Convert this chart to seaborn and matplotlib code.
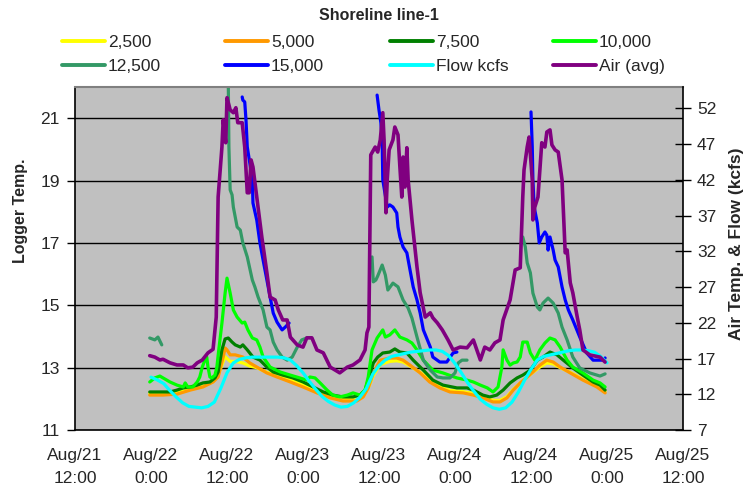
import matplotlib
matplotlib.use("Agg")
import matplotlib.pyplot as plt
from matplotlib.lines import Line2D
import pandas as pd
import seaborn as sns

sns.set_style("white")
plt.rcParams["font.family"] = ["Liberation Sans", "DejaVu Sans"]

# ---- chart text -----------------------------------------------------------
title = "Shoreline line-1"
left_label = "Logger Temp."
right_label = "Air Temp. & Flow (kcfs)"
tick_hours = [0, 12, 24, 36, 48, 60, 72, 84, 96]  # hours after Aug/21 12:00
tick_labels = ["Aug/21\n12:00", "Aug/22\n0:00", "Aug/22\n12:00", "Aug/23\n0:00",
               "Aug/23\n12:00", "Aug/24\n0:00", "Aug/24\n12:00", "Aug/25\n0:00",
               "Aug/25\n12:00"]
left_ticks = [11, 13, 15, 17, 19, 21]
right_ticks = [7, 12, 17, 22, 27, 32, 37, 42, 47, 52]

# ---- logger temperatures (left axis) --------------------------------------
t_2500 = [11.8, 13.9, 16.1, 18.2, 20.2, 21.8, 22.6, 23.4, 23.7, 24.5, 25.3, 26.5,
          27.6, 28.7, 30.3, 31.9, 34.0, 36.0, 38.2, 40.3, 42.3, 44.5, 45.5, 46.3,
          47.1, 48.2, 49.7, 50.8, 51.8, 52.9, 54.5, 56.0, 57.6, 59.2, 61.3, 62.9,
          64.4, 66.0, 67.1, 68.2, 69.2, 70.3, 71.4, 72.3, 73.4, 74.5, 75.5, 76.6,
          78.2, 80.2, 82.4, 83.7]
v_2500 = [12.18, 12.16, 12.20, 12.30, 12.40, 12.55, 12.75, 13.20, 13.35, 13.20, 13.20, 13.15,
          13.05, 13.00, 12.85, 12.75, 12.60, 12.45, 12.25, 12.08, 11.98, 11.97, 12.08, 12.35,
          12.75, 13.10, 13.20, 13.22, 13.18, 13.05, 12.85, 12.60, 12.40, 12.27, 12.23, 12.17,
          12.08, 11.95, 11.95, 12.07, 12.30, 12.50, 12.70, 12.85, 13.02, 13.15, 13.12, 13.00,
          12.85, 12.63, 12.42, 12.24]

t_5000 = [11.8, 13.9, 16.1, 18.2, 20.2, 21.8, 22.6, 23.4, 23.7, 24.0, 24.5, 25.3,
          26.5, 27.6, 28.7, 30.3, 31.9, 34.0, 36.0, 38.2, 40.3, 42.3, 44.5, 45.5,
          46.3, 47.1, 48.2, 49.7, 50.8, 51.8, 52.9, 54.5, 56.0, 57.6, 59.2, 61.3,
          62.9, 64.4, 66.0, 67.1, 68.2, 69.2, 70.3, 71.4, 72.3, 73.4, 74.5, 75.5,
          76.6, 78.2, 80.2, 82.4, 83.7]
v_5000 = [12.12, 12.12, 12.15, 12.28, 12.38, 12.54, 12.70, 13.34, 13.63, 13.57, 13.41, 13.41,
          13.34, 13.15, 13.02, 12.83, 12.70, 12.54, 12.38, 12.19, 12.03, 11.93, 11.93, 12.06,
          12.35, 12.83, 13.24, 13.31, 13.31, 13.24, 13.08, 12.83, 12.54, 12.35, 12.22, 12.19,
          12.12, 12.03, 11.90, 11.90, 12.03, 12.28, 12.51, 12.70, 12.86, 13.08, 13.24, 13.18,
          13.02, 12.83, 12.60, 12.38, 12.19]

t_7500 = [11.8, 13.0, 13.9, 15.0, 16.1, 17.1, 18.2, 19.3, 20.2, 21.3, 22.1, 22.6,
          23.2, 23.7, 24.2, 24.8, 25.3, 26.1, 26.5, 27.2, 28.1, 29.2, 30.3, 31.3,
          32.8, 34.4, 36.0, 37.6, 39.2, 40.7, 42.3, 43.9, 45.0, 45.8, 46.3, 47.1,
          47.8, 48.6, 49.7, 50.5, 51.3, 52.4, 53.4, 55.0, 56.5, 58.1, 60.3, 61.9,
          62.9, 64.4, 65.5, 66.6, 67.6, 68.7, 69.8, 70.7, 71.9, 73.0, 73.9, 75.0,
          76.1, 77.1, 78.6, 80.2, 81.8, 82.9, 83.7]
v_7500 = [12.22, 12.22, 12.22, 12.22, 12.28, 12.35, 12.38, 12.44, 12.51, 12.54, 12.67, 12.86,
          13.57, 13.92, 13.95, 13.82, 13.73, 13.66, 13.73, 13.57, 13.34, 13.24, 13.02, 12.86,
          12.76, 12.67, 12.54, 12.38, 12.22, 12.12, 12.06, 12.06, 12.12, 12.28, 12.60, 13.15,
          13.34, 13.47, 13.50, 13.60, 13.50, 13.47, 13.24, 12.92, 12.60, 12.44, 12.35, 12.35,
          12.28, 12.12, 12.06, 12.12, 12.28, 12.51, 12.67, 12.76, 12.92, 13.24, 13.34, 13.50,
          13.41, 13.24, 12.99, 12.76, 12.54, 12.44, 12.28]

t_10000 = [11.8, 12.6, 13.4, 13.9, 15.0, 16.1, 17.1, 17.4, 17.8, 18.6, 19.3, 19.7,
           20.1, 20.5, 20.8, 21.0, 21.3, 21.6, 22.1, 22.4, 22.7, 23.2, 23.7, 24.0,
           24.5, 25.0, 25.6, 26.4, 26.8, 27.3, 28.0, 28.7, 29.2, 29.7, 30.8, 32.4,
           34.0, 35.5, 36.6, 37.1, 37.9, 38.7, 39.8, 40.7, 41.8, 43.0, 43.9, 45.0,
           45.8, 46.3, 46.9, 47.7, 48.6, 49.0, 49.7, 50.5, 51.3, 52.4, 53.2, 54.0,
           55.0, 56.5, 58.1, 60.3, 61.9, 62.9, 64.0, 65.1, 66.0, 66.8, 67.4, 67.6,
           68.2, 68.7, 69.2, 69.8, 70.3, 70.7, 71.4, 71.9, 72.6, 73.4, 74.2, 75.0,
           75.8, 76.6, 77.7, 78.6, 80.2, 81.8, 82.9, 83.7]
v_10000 = [12.54, 12.67, 12.73, 12.67, 12.54, 12.44, 12.38, 12.51, 12.38, 12.38, 12.54, 12.70,
           13.02, 13.24, 13.34, 13.02, 12.70, 12.67, 12.76, 13.02, 13.57, 14.43, 15.39, 15.87,
           15.39, 14.85, 14.62, 14.43, 14.46, 14.21, 13.95, 13.89, 13.66, 13.34, 13.02, 12.86,
           12.76, 12.67, 12.60, 12.70, 12.67, 12.51, 12.28, 12.12, 12.06, 12.12, 12.19, 12.12,
           12.28, 12.70, 13.57, 13.95, 14.21, 13.98, 14.05, 14.21, 13.98, 13.89, 13.79, 13.57,
           13.24, 12.92, 12.83, 12.67, 12.60, 12.54, 12.44, 12.35, 12.22, 12.38, 13.02, 13.57,
           13.24, 13.08, 13.15, 13.18, 13.34, 13.82, 13.82, 13.47, 13.24, 13.57, 13.79, 13.95,
           13.89, 13.66, 13.24, 13.02, 12.83, 12.60, 12.51, 12.38]

# the 12,500 and 15,000 loggers have gaps in their records
t_12500_a = [11.8, 12.6, 13.1, 13.7]
v_12500_a = [13.95, 13.89, 13.98, 13.73]
t_12500_b = [24.2, 24.3, 24.5, 24.8, 25.0, 25.6, 26.1, 26.5, 27.2, 28.0, 28.4, 28.9,
             29.7, 30.3, 30.8, 31.3, 31.9, 32.7, 33.5, 34.3, 35.1, 35.8, 36.6]
v_12500_b = [22.20, 20.08, 18.70, 18.54, 18.15, 17.51, 17.41, 17.00, 16.55, 15.81, 15.59, 15.27,
             14.85, 14.30, 14.21, 13.82, 13.57, 13.34, 13.24, 13.34, 13.66, 13.89, 13.95]
t_12500_c = [46.9, 47.1, 47.5, 47.8, 48.5, 49.0, 49.4, 50.2, 51.0, 51.8, 52.6, 53.2,
             54.0, 55.0, 56.1, 57.2, 58.1, 59.2, 60.0, 60.5, 61.1, 61.9]
v_12500_c = [16.55, 15.75, 15.81, 15.94, 16.29, 15.97, 15.49, 15.71, 15.59, 15.17, 14.91, 14.59,
             13.98, 13.24, 12.92, 12.70, 12.67, 12.67, 12.83, 13.15, 13.24, 13.24]
t_12500_d = [70.7, 71.1, 71.4, 71.9, 72.3, 73.0, 73.4, 73.9, 74.7, 75.5, 76.3, 76.9,
             77.7, 78.6, 79.7, 81.3, 82.9, 83.7]
v_12500_d = [17.19, 16.87, 16.36, 16.04, 15.39, 14.94, 14.85, 15.07, 15.23, 15.07, 14.75, 14.30,
             13.89, 13.34, 12.99, 12.83, 12.73, 12.80]

t_15000_a = [26.4, 26.5, 26.8, 27.0, 27.2, 27.6, 28.0, 28.1, 28.7, 29.2, 29.7, 30.3,
             30.8, 31.3, 31.9, 32.7, 33.2, 33.8]
v_15000_a = [21.68, 21.58, 21.52, 20.94, 20.08, 19.56, 19.02, 18.28, 17.73, 17.00, 16.45, 15.81,
             15.27, 14.75, 14.46, 14.21, 14.30, 14.43]
t_15000_b = [47.7, 48.0, 48.3, 48.5, 48.6, 49.3, 49.7, 50.2, 50.8, 51.0, 51.3, 51.8,
             52.4, 52.9, 53.4, 54.0, 54.5, 55.0, 56.1, 56.5, 57.6, 58.7, 59.7, 60.3]
v_15000_b = [21.74, 21.26, 20.85, 20.30, 19.02, 18.15, 18.22, 18.15, 17.96, 17.51, 17.19, 16.87,
             16.68, 16.13, 15.59, 15.17, 14.75, 14.21, 13.66, 13.34, 13.18, 13.18, 13.47, 13.50]
t_15000_c = [72.0, 72.2, 72.3, 72.5, 73.0, 73.3, 73.7, 74.2, 74.5, 74.7, 75.0, 75.5,
             75.8, 76.3, 76.9, 77.4, 77.9, 78.6, 79.7, 80.8, 81.8, 83.4, 83.7]
v_15000_c = [21.20, 20.08, 19.02, 18.15, 17.64, 17.00, 17.19, 17.35, 17.25, 16.77, 17.19, 16.77,
             16.45, 16.23, 15.59, 15.17, 14.85, 14.53, 13.98, 13.47, 13.24, 13.24, 13.31]

# ---- river flow and air temperature (right axis) --------------------------
t_flow = list(range(12, 85))
v_flow = [14.4, 14.0, 13.5, 12.5, 11.6, 10.8, 10.3, 10.2, 10.1, 10.3, 10.9, 12.8,
          15.0, 16.4, 16.9, 17.1, 17.2, 17.2, 17.2, 17.2, 17.2, 17.1, 16.8, 16.0,
          15.0, 13.8, 12.7, 11.7, 11.0, 10.5, 10.2, 10.3, 10.8, 11.6, 12.8, 14.8,
          16.0, 16.8, 17.3, 17.5, 17.7, 17.9, 18.0, 18.1, 18.2, 18.2, 18.0, 17.4,
          16.3, 15.0, 13.6, 12.4, 11.3, 10.6, 10.1, 9.9, 10.1, 10.9, 12.3, 14.0,
          15.5, 16.8, 17.3, 17.5, 17.7, 17.9, 18.1, 18.2, 18.2, 18.1, 17.9, 17.3,
          16.4]

t_air = [11.8, 12.6, 13.4, 13.9, 15.0, 16.1, 17.1, 17.8, 18.6, 19.3, 20.1, 21.0,
         21.8, 22.3, 22.6, 23.2, 23.4, 23.8, 24.0, 24.5, 25.0, 25.4, 25.7, 26.4,
         26.8, 27.2, 27.5, 27.8, 28.1, 28.7, 29.5, 30.3, 30.8, 31.6, 32.1, 32.8,
         33.5, 34.0, 35.1, 36.0, 36.6, 37.4, 38.2, 39.2, 40.3, 41.8, 43.0, 43.9,
         45.0, 45.8, 46.1, 46.4, 46.7, 47.4, 47.8, 48.2, 48.6, 48.8, 49.1, 49.3,
         49.6, 50.2, 50.5, 51.0, 51.3, 51.6, 51.8, 52.1, 52.4, 52.6, 53.2, 54.0,
         54.5, 55.3, 56.1, 56.5, 57.2, 58.0, 58.9, 59.7, 60.8, 61.9, 62.9, 64.0,
         64.7, 65.5, 66.3, 67.1, 67.6, 68.7, 69.5, 70.3, 70.7, 70.9, 71.4, 71.7,
         72.2, 72.3, 72.6, 73.1, 73.7, 74.2, 74.5, 75.0, 75.3, 75.8, 76.3, 76.9,
         77.4, 77.7, 78.2, 78.6, 79.3, 79.7, 80.2, 81.3, 82.9, 83.7]
v_air = [17.4, 17.2, 16.8, 16.9, 16.4, 16.1, 16.1, 15.7, 15.8, 16.4, 16.8, 17.8,
         18.3, 22.8, 39.6, 46.6, 50.4, 47.2, 53.5, 51.8, 51.4, 52.1, 50.0, 50.0,
         46.6, 40.2, 40.2, 44.8, 43.8, 39.6, 34.0, 29.0, 25.6, 25.2, 23.8, 22.4,
         22.4, 20.0, 18.9, 18.6, 19.9, 19.9, 18.2, 17.8, 15.8, 15.0, 15.8, 16.1,
         16.8, 18.2, 20.6, 21.4, 45.5, 46.6, 45.9, 47.6, 51.4, 47.6, 37.4, 42.0,
         46.2, 47.6, 49.4, 48.3, 43.8, 39.6, 45.2, 41.0, 46.5, 42.0, 36.4, 29.8,
         26.2, 22.8, 23.4, 22.7, 22.0, 21.0, 19.6, 18.2, 18.6, 18.5, 19.6, 16.8,
         18.6, 18.2, 19.2, 19.6, 22.4, 25.2, 29.4, 29.7, 39.6, 43.4, 46.6, 48.0,
         42.0, 36.4, 38.2, 39.6, 47.2, 46.6, 48.7, 49.0, 46.9, 46.2, 45.9, 42.0,
         31.8, 32.2, 27.6, 26.2, 22.8, 21.0, 18.2, 17.5, 17.2, 16.5]

names = ["2,500", "5,000", "7,500", "10,000", "12,500", "15,000", "Flow kcfs", "Air (avg)"]
colors = ["#FFFF00", "#FF9900", "#008000", "#00FF00", "#339966", "#0000FF", "#00FFFF", "#800080"]


def frame(name, pieces):
    rows = []
    for k, (t, v) in enumerate(pieces):
        for h, y in zip(t, v):
            rows.append({"series": name, "seg": f"{name}-{k}", "hour": h, "value": y})
    return pd.DataFrame(rows)


left_df = pd.concat([
    frame("2,500", [(t_2500, v_2500)]),
    frame("5,000", [(t_5000, v_5000)]),
    frame("7,500", [(t_7500, v_7500)]),
    frame("10,000", [(t_10000, v_10000)]),
    frame("12,500", [(t_12500_a, v_12500_a), (t_12500_b, v_12500_b),
                     (t_12500_c, v_12500_c), (t_12500_d, v_12500_d)]),
    frame("15,000", [(t_15000_a, v_15000_a), (t_15000_b, v_15000_b),
                     (t_15000_c, v_15000_c)]),
], ignore_index=True)
right_df = pd.concat([
    frame("Flow kcfs", [(t_flow, v_flow)]),
    frame("Air (avg)", [(t_air, v_air)]),
], ignore_index=True)

palette = dict(zip(names, colors))

fig = plt.figure(figsize=(7.48, 4.92), dpi=100)
ax = fig.add_axes([75 / 748, 62 / 492, 608 / 748, 343 / 492])
ax2 = ax.twinx()
ax.set_facecolor("#C0C0C0")

sns.lineplot(data=left_df, x="hour", y="value", hue="series", units="seg",
             estimator=None, sort=False, palette=palette, hue_order=names[:6],
             linewidth=2.3, legend=False, ax=ax)
for name, lw in [("Flow kcfs", 2.3), ("Air (avg)", 2.6)]:
    sub = right_df[right_df["series"] == name]
    sns.lineplot(data=sub, x="hour", y="value", units="seg", estimator=None,
                 sort=False, color=palette[name], linewidth=lw, legend=False, ax=ax2)
for line in ax.get_lines() + ax2.get_lines():
    line.set_solid_joinstyle("round")

# axes limits, ticks and grid
ax.set_xlim(0, 96)
ax.set_ylim(11, 22)
ax2.set_ylim(7, 55)
ax.set_xticks(tick_hours)
ax.set_xticklabels(tick_labels, fontsize=12.5, linespacing=1.7, multialignment="center")
ax.set_yticks(left_ticks)
ax.set_yticklabels([str(v) for v in left_ticks], fontsize=12.5)
ax2.set_yticks(right_ticks)
ax2.set_yticklabels([str(v) for v in right_ticks], fontsize=12.5)
ax.tick_params(axis="x", direction="out", length=5, width=1, color="black", pad=8)
ax.tick_params(axis="y", direction="out", length=6, width=1, color="black", pad=5)
ax2.tick_params(axis="y", direction="inout", length=12, width=1, color="black", pad=4)
ax.set_axisbelow(True)
ax.yaxis.grid(True, color="black", linewidth=1.0)
ax.xaxis.grid(False)
ax.set_xlabel("")
ax.set_ylabel(left_label, fontsize=11.5, fontweight="bold")
ax2.set_ylabel(right_label, fontsize=12.5, fontweight="bold")
ax.yaxis.set_label_coords(-0.078, 0.638)
ax2.yaxis.set_label_coords(1.076, 0.542)

for a in (ax, ax2):
    for side in ("left", "right", "bottom", "top"):
        a.spines[side].set_visible(False)
ax.spines["left"].set_visible(True)
ax.spines["bottom"].set_visible(True)
ax2.spines["right"].set_visible(True)
ax.spines["top"].set_visible(True)
for side in ("left", "bottom"):
    ax.spines[side].set_color("black")
    ax.spines[side].set_linewidth(1.2)
ax2.spines["right"].set_color("black")
ax2.spines["right"].set_linewidth(1.2)
ax.spines["top"].set_color("#808080")
ax.spines["top"].set_linewidth(1.5)

# title and legend
fig.text(379 / 748, 1 - 15 / 492, title, ha="center", va="center",
         fontsize=11.5, fontweight="bold")
handles = [Line2D([], [], color=c, linewidth=2.8) for c in colors]
col_x = [62, 225, 390, 553]
for k, x0 in enumerate(col_x):
    pair = [k, k + 4]
    fig.legend([handles[i] for i in pair], [names[i] for i in pair],
               loc="upper left", bbox_to_anchor=(x0 / 748, 1 - 35 / 492),
               frameon=False, fontsize=12.5, handlelength=2.45, handletextpad=0.2,
               borderpad=0, borderaxespad=0, labelspacing=0.52)

fig.savefig("out.png", dpi=100, facecolor="white")
